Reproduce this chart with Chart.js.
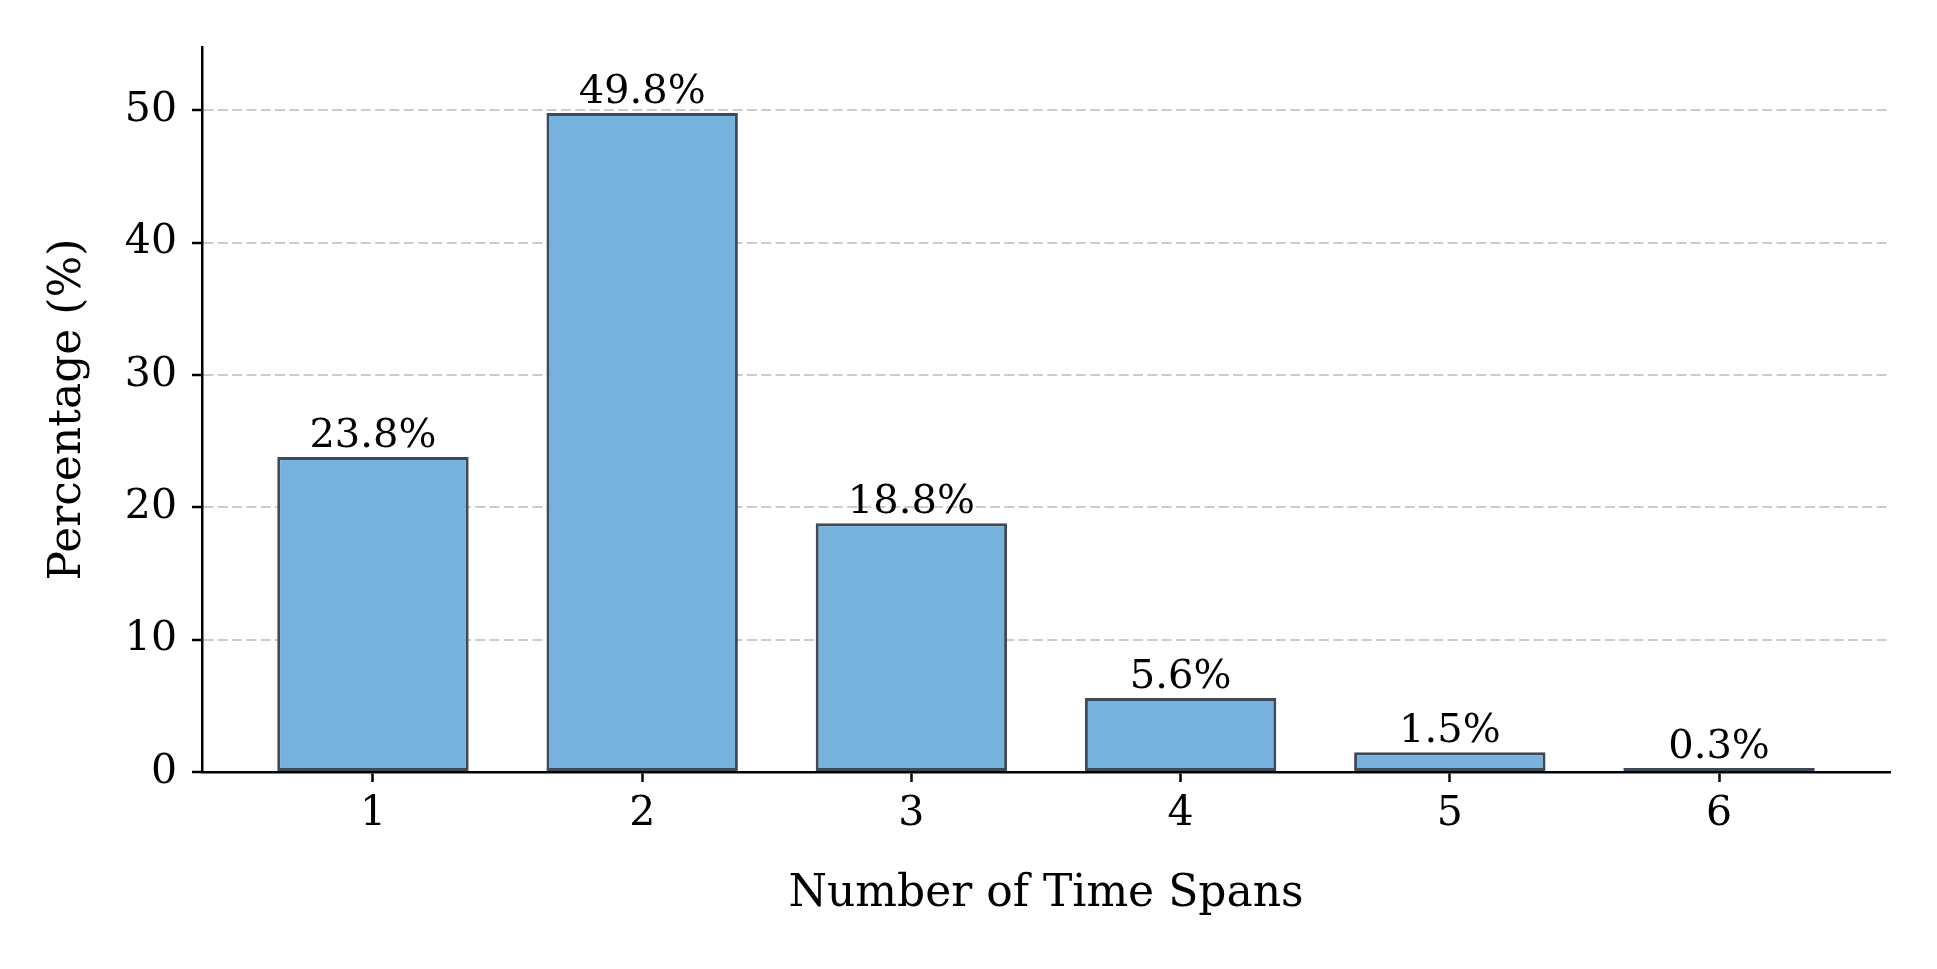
<!DOCTYPE html>
<html>
<head>
<meta charset="utf-8">
<script src="https://cdn.jsdelivr.net/npm/chart.js@4"></script>
<style>
  html, body { margin: 0; padding: 0; background: #ffffff; }
  #wrap { width: 1937px; height: 969px; }
</style>
</head>
<body>
<div id="wrap"><canvas id="c" width="1937" height="969"></canvas></div>
<script>
// ---- data ----
const categories = [1, 2, 3, 4, 5, 6];
const percentages = [23.8, 49.8, 18.8, 5.6, 1.5, 0.3];
const yTicks = [0, 10, 20, 30, 40, 50];
const xTitle = 'Number of Time Spans';
const yTitle = 'Percentage (%)';

const FONT = "'DejaVu Serif', 'Liberation Serif', serif";

const points = categories.map((c, i) => ({ x: c, y: percentages[i] }));

const valueLabels = {
  id: 'valueLabels',
  afterDatasetsDraw(chart) {
    const ctx = chart.ctx;
    const meta = chart.getDatasetMeta(0);
    ctx.save();
    ctx.font = '40px ' + FONT;
    ctx.fillStyle = '#000000';
    ctx.textAlign = 'center';
    ctx.textBaseline = 'alphabetic';
    meta.data.forEach((bar, i) => {
      ctx.fillText(percentages[i].toFixed(1) + '%', bar.x, bar.y - 10);
    });
    ctx.restore();
  }
};

new Chart(document.getElementById('c'), {
  type: 'bar',
  data: {
    datasets: [{
      data: points,
      backgroundColor: '#75b3de',
      borderColor: '#3e4a57',
      borderWidth: 3,
      borderSkipped: false,
      barPercentage: 0.711,
      categoryPercentage: 1.0
    }]
  },
  options: {
    responsive: false,
    devicePixelRatio: 1,
    animation: false,
    layout: { padding: { top: 47, right: 47, bottom: 0, left: 0 } },
    plugins: { legend: { display: false }, tooltip: { enabled: false } },
    scales: {
      x: {
        type: 'linear',
        offset: false,
        min: 0.365,
        max: 6.635,
        afterBuildTicks: (s) => { s.ticks = categories.map(v => ({ value: v })); },
        afterFit: (s) => { s.height = 197; },
        grid: {
          display: true,
          offset: false,
          drawOnChartArea: false,
          drawTicks: true,
          tickLength: 10,
          tickColor: '#000000',
          tickWidth: 2.5
        },
        border: { display: true, color: '#000000', width: 2.5 },
        ticks: {
          color: '#000000',
          padding: 8,
          maxRotation: 0,
          font: { family: FONT, size: 41 },
          callback: (v) => String(v)
        },
        title: {
          display: true,
          text: xTitle,
          color: '#000000',
          font: { family: FONT, size: 44 },
          padding: { top: 0, bottom: 48 }
        }
      },
      y: {
        type: 'linear',
        min: 0,
        max: 54.78,
        afterBuildTicks: (s) => { s.ticks = yTicks.map(v => ({ value: v })); },
        afterFit: (s) => { s.width = 202; },
        grid: {
          display: true,
          drawOnChartArea: true,
          drawTicks: true,
          tickLength: 10,
          tickColor: '#000000',
          tickWidth: 2.5,
          tickBorderDash: [],
          lineWidth: 2,
          color: (c) => (c.tick && c.tick.value === 0) ? 'rgba(0,0,0,0)' : '#cccccc'
        },
        border: { display: true, color: '#000000', width: 2.5, dash: [10, 4.3] },
        ticks: {
          color: '#000000',
          padding: 15,
          font: { family: FONT, size: 41 },
          callback: (v) => String(v)
        },
        title: {
          display: true,
          text: yTitle,
          color: '#000000',
          font: { family: FONT, size: 44 },
          padding: { top: 42, bottom: 0 }
        }
      }
    }
  },
  plugins: [valueLabels]
});
</script>
</body>
</html>
